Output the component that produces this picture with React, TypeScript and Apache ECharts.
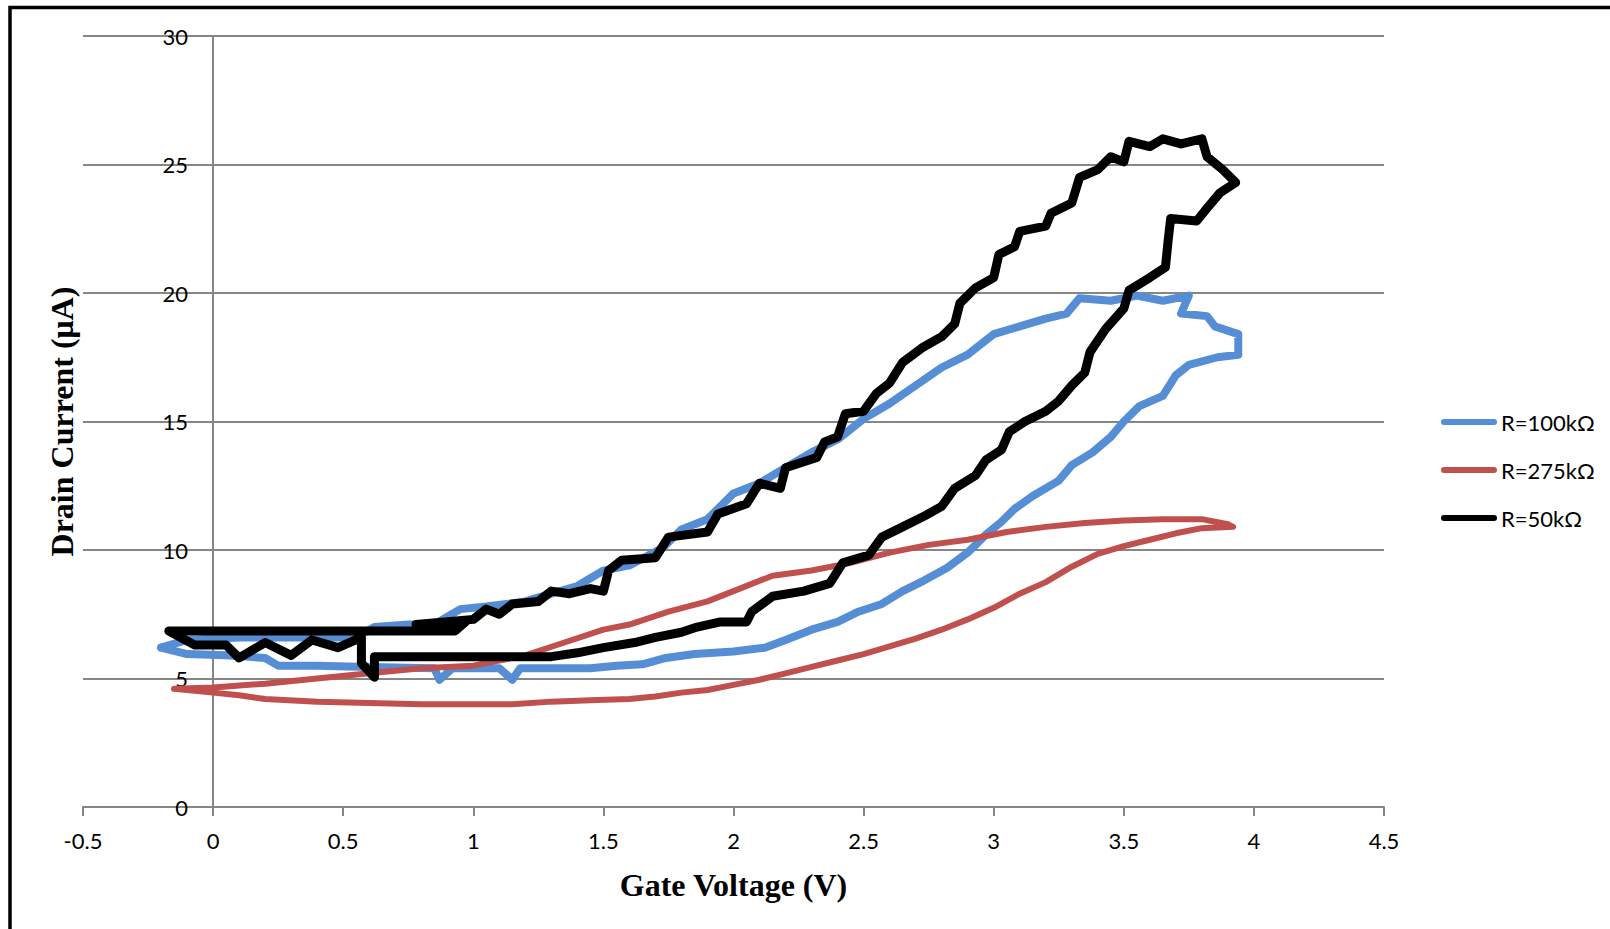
import React, { useEffect, useRef } from "react";
import * as echarts from "echarts";

// Axis ranges / ticks
const X_MIN = -0.5;
const X_MAX = 4.5;
const X_STEP = 0.5;
const Y_MIN = 0;
const Y_MAX = 30;
const Y_STEP = 5;

const SERIES_NAMES = ["R=100kΩ", "R=275kΩ", "R=50kΩ"];
const SERIES_COLORS = ["#558ED5", "#C0504D", "#000000"];

// R=100kΩ loop: [gate voltage V, drain current µA]
const r100: number[][] = [
  [-0.2, 6.2], [-0.1, 6.5], [0.1, 6.6], [0.3, 6.6], [0.55, 6.6], [0.62, 7.0], [0.75, 7.1],
  [0.85, 7.1], [0.95, 7.7], [1.05, 7.8], [1.2, 8.0], [1.3, 8.3], [1.4, 8.6], [1.5, 9.2],
  [1.6, 9.4], [1.73, 10.1], [1.8, 10.8], [1.9, 11.2], [2.0, 12.2], [2.1, 12.6], [2.2, 13.2],
  [2.3, 13.8], [2.4, 14.3], [2.5, 15.1], [2.6, 15.7], [2.7, 16.4], [2.8, 17.1], [2.9, 17.6],
  [3.0, 18.4], [3.1, 18.7], [3.2, 19.0], [3.28, 19.2], [3.33, 19.8], [3.45, 19.7], [3.55, 19.9],
  [3.65, 19.7], [3.75, 19.9], [3.72, 19.2], [3.82, 19.1], [3.85, 18.7], [3.94, 18.4], [3.94, 17.6],
  [3.86, 17.5], [3.75, 17.2], [3.7, 16.8], [3.65, 16.0], [3.56, 15.6], [3.5, 15.0], [3.45, 14.4],
  [3.38, 13.8], [3.3, 13.3], [3.25, 12.7], [3.15, 12.1], [3.08, 11.6], [3.03, 11.1], [2.97, 10.6],
  [2.9, 9.9], [2.82, 9.3], [2.73, 8.8], [2.65, 8.4], [2.57, 7.9], [2.48, 7.6], [2.4, 7.2],
  [2.3, 6.9], [2.2, 6.5], [2.12, 6.2], [2.0, 6.05], [1.85, 5.95], [1.74, 5.8], [1.65, 5.55],
  [1.55, 5.5], [1.45, 5.4], [1.3, 5.4], [1.18, 5.4], [1.15, 4.95], [1.1, 5.4], [0.92, 5.4],
  [0.87, 4.95], [0.85, 5.4], [0.6, 5.45], [0.4, 5.5], [0.25, 5.5], [0.2, 5.8], [0.05, 5.9],
  [-0.1, 5.95], [-0.2, 6.2],
];

// R=275kΩ loop
const r275: number[][] = [
  [-0.15, 4.6], [0.0, 4.65], [0.2, 4.8], [0.4, 5.0], [0.6, 5.2], [0.8, 5.4], [1.0, 5.5],
  [1.2, 5.9], [1.35, 6.4], [1.5, 6.9], [1.6, 7.1], [1.75, 7.6], [1.9, 8.0], [2.0, 8.4],
  [2.15, 9.0], [2.3, 9.2], [2.45, 9.5], [2.6, 9.9], [2.75, 10.2], [2.9, 10.4], [3.05, 10.7],
  [3.2, 10.9], [3.35, 11.05], [3.5, 11.15], [3.65, 11.2], [3.8, 11.2], [3.9, 11.0], [3.92, 10.9],
  [3.8, 10.85], [3.7, 10.65], [3.6, 10.4], [3.5, 10.15], [3.4, 9.85], [3.3, 9.35], [3.2, 8.75],
  [3.1, 8.3], [3.0, 7.75], [2.9, 7.3], [2.8, 6.9], [2.7, 6.55], [2.6, 6.25], [2.5, 5.95],
  [2.4, 5.7], [2.3, 5.45], [2.2, 5.2], [2.1, 4.95], [2.0, 4.75], [1.9, 4.55], [1.8, 4.45],
  [1.7, 4.3], [1.6, 4.2], [1.45, 4.15], [1.3, 4.1], [1.15, 4.0], [1.0, 4.0], [0.8, 4.0],
  [0.6, 4.05], [0.4, 4.1], [0.2, 4.2], [0.1, 4.35], [0.0, 4.45], [-0.15, 4.6],
];

// R=50kΩ loop
const r50: number[][] = [
  [-0.17, 6.85], [0.1, 6.85], [0.4, 6.85], [0.7, 6.85], [0.93, 6.85], [0.97, 7.2], [0.78, 7.1],
  [1.0, 7.3], [1.05, 7.7], [1.1, 7.5], [1.15, 7.9], [1.25, 8.0], [1.3, 8.4], [1.37, 8.3],
  [1.45, 8.5], [1.5, 8.4], [1.52, 9.2], [1.57, 9.6], [1.7, 9.7], [1.75, 10.5], [1.9, 10.7],
  [1.94, 11.4], [2.05, 11.8], [2.1, 12.6], [2.18, 12.4], [2.2, 13.2], [2.32, 13.6], [2.35, 14.2],
  [2.4, 14.4], [2.43, 15.3], [2.5, 15.4], [2.55, 16.1], [2.6, 16.5], [2.65, 17.3], [2.73, 17.9],
  [2.8, 18.3], [2.85, 18.8], [2.87, 19.6], [2.93, 20.2], [3.0, 20.6], [3.02, 21.5], [3.08, 21.8],
  [3.1, 22.4], [3.2, 22.6], [3.22, 23.1], [3.3, 23.5], [3.33, 24.5], [3.4, 24.8], [3.45, 25.3],
  [3.5, 25.1], [3.52, 25.9], [3.6, 25.7], [3.65, 26.0], [3.72, 25.8], [3.8, 26.0], [3.82, 25.3],
  [3.88, 24.8], [3.93, 24.3], [3.87, 23.9], [3.82, 23.3], [3.78, 22.8], [3.68, 22.9], [3.67, 22.0],
  [3.66, 21.0], [3.6, 20.6], [3.52, 20.1], [3.5, 19.4], [3.43, 18.6], [3.37, 17.7], [3.35, 16.9],
  [3.3, 16.4], [3.25, 15.8], [3.2, 15.4], [3.12, 15.0], [3.06, 14.6], [3.03, 13.9], [2.97, 13.5],
  [2.93, 12.9], [2.85, 12.4], [2.8, 11.7], [2.73, 11.3], [2.65, 10.9], [2.57, 10.5], [2.52, 9.8],
  [2.42, 9.5], [2.37, 8.7], [2.27, 8.4], [2.15, 8.2], [2.07, 7.6], [2.05, 7.2], [1.95, 7.2],
  [1.86, 7.0], [1.8, 6.8], [1.7, 6.6], [1.62, 6.4], [1.5, 6.2], [1.4, 6.0], [1.3, 5.85],
  [1.1, 5.85], [0.9, 5.85], [0.7, 5.85], [0.62, 5.85], [0.62, 5.05], [0.57, 5.6], [0.57, 6.6],
  [0.48, 6.2], [0.38, 6.5], [0.3, 5.9], [0.2, 6.4], [0.1, 5.8], [0.05, 6.3], [-0.07, 6.3],
  [-0.17, 6.85],
];

const SERIES_DATA = [r100, r275, r50];
const SERIES_WIDTHS = [8, 6, 9];

const LEGEND_ICON = "path://M3,0 H53 A3,3 0 0 1 53,6 H3 A3,3 0 0 1 3,0 Z";

export default function App() {
  const ref = useRef<HTMLDivElement>(null);

  useEffect(() => {
    if (!ref.current) return;
    const chart = echarts.init(ref.current, undefined, { renderer: "svg" });
    const gray = "#868686";
    const gridLeft = 83;
    const gridRight = 226;
    const plotWidth = 1610 - gridLeft - gridRight;
    // move the y axis to x = 0 (Excel style crossing)
    const yOffset = -((0 - X_MIN) / (X_MAX - X_MIN)) * plotWidth;
    const option: any = {
      animation: false,
      backgroundColor: "#ffffff",
      grid: { left: gridLeft, right: gridRight, top: 36, bottom: 122, containLabel: false, outerBoundsMode: "none" },
      graphic: [
        {
          type: "rect",
          shape: { x: 10, y: 7.5, width: 1700, height: 1000 },
          style: { fill: "none", stroke: "#000", lineWidth: 3.5 },
          silent: true,
          z: 100,
        },
      ],
      legend: {
        orient: "vertical",
        left: 1441,
        top: 411,
        padding: 0,
        itemWidth: 56,
        itemHeight: 6,
        itemGap: 26,
        icon: LEGEND_ICON,
        data: SERIES_NAMES,
        textStyle: { fontFamily: "Lato", fontSize: 22, color: "#000", lineHeight: 22, padding: [0, 0, 0, -1] },
      },
      xAxis: {
        type: "value",
        min: X_MIN,
        max: X_MAX,
        interval: X_STEP,
        axisLine: { show: true, onZero: true, lineStyle: { color: gray, width: 2 } },
        axisTick: { show: true, length: 9, lineStyle: { color: gray, width: 2 } },
        axisLabel: { color: "#000", fontFamily: "Lato", fontSize: 22, margin: 22 },
        splitLine: { show: false },
        name: "Gate Voltage (V)",
        nameLocation: "middle",
        nameGap: 62,
        nameMoveOverlap: false,
        nameTextStyle: { fontFamily: "'Liberation Serif', serif", fontWeight: "bold", fontSize: 32, color: "#000" },
      },
      yAxis: {
        type: "value",
        min: Y_MIN,
        max: Y_MAX,
        interval: Y_STEP,
        offset: yOffset,
        axisLine: { show: true, onZero: false, lineStyle: { color: gray, width: 2 } },
        axisTick: { show: false },
        axisLabel: { color: "#000", fontFamily: "Lato", fontSize: 22, margin: 25 },
        splitLine: { show: true, lineStyle: { color: gray, width: 2 } },
        name: "Drain Current (μA)",
        nameLocation: "middle",
        nameGap: 135,
        nameMoveOverlap: false,
        nameTextStyle: { fontFamily: "'Liberation Serif', serif", fontWeight: "bold", fontSize: 32, color: "#000" },
      },
      series: SERIES_NAMES.map((name, i) => ({
        name,
        type: "line",
        data: SERIES_DATA[i],
        symbol: "none",
        showSymbol: false,
        smooth: false,
        color: SERIES_COLORS[i],
        itemStyle: { color: SERIES_COLORS[i] },
        lineStyle: { color: SERIES_COLORS[i], width: SERIES_WIDTHS[i], cap: "round", join: "round" },
        z: 2 + i,
      })),
    };
    chart.setOption(option);
    return () => chart.dispose();
  }, []);

  return (
    <div
      ref={ref}
      style={{ position: "absolute", left: 0, top: 0, width: 1610, height: 929, background: "#fff" }}
    />
  );
}
